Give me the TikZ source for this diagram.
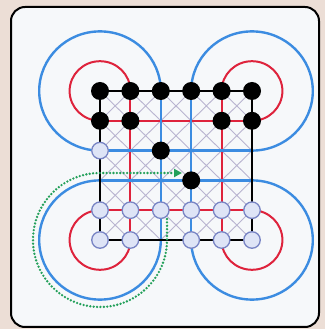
\documentclass[tikz,border=0pt]{standalone}
\usetikzlibrary{arrows.meta}
\definecolor{bgbeige}{RGB}{236,222,214}
\definecolor{boardfill}{RGB}{246,248,250}
\definecolor{redc}{RGB}{222,35,60}
\definecolor{bluec}{RGB}{60,140,225}
\definecolor{hatchc}{RGB}{185,180,208}
\definecolor{whitefill}{RGB}{222,228,246}
\definecolor{whiteedge}{RGB}{120,132,196}
\definecolor{greenc}{RGB}{35,160,90}
\begin{document}
\begin{tikzpicture}[x=1pt,y=1pt,
  boardframe/.style={draw=black,line width=2pt,fill=boardfill,rounded corners=14pt},
  hatch/.style={draw=hatchc,line width=0.9pt},
  redline/.style={draw=redc,line width=2pt},
  blueline/.style={draw=bluec,line width=2.4pt},
  frameline/.style={draw=black,line width=2.4pt},
  greenpath/.style={draw=greenc,line width=2.6pt,line cap=round,dash pattern=on 0pt off 3.4pt,
    -{Triangle[length=8pt,width=8pt,fill=greenc]}},
  blackpiece/.style={circle,fill=black,inner sep=0pt,minimum size=18pt},
  whitepiece/.style={circle,fill=whitefill,draw=whiteedge,line width=1.3pt,inner sep=0pt,minimum size=16.5pt}]
\useasboundingbox (0,0) rectangle (325,329);
\fill[bgbeige] (0,0) rectangle (325,329);
\draw[boardframe] (11,2) rectangle (319,322);
% grid coordinates
\foreach \i in {0,...,5}{
  \foreach \j in {0,...,5}{
    \coordinate (p-\i-\j) at ({100+30.4*\j},{238-29.8*\i});
  }
}
% hatching
\foreach \i in {0,...,4}{
  \foreach \j in {0,...,4}{
    \pgfmathtruncatemacro\ii{\i+1}
    \pgfmathtruncatemacro\jj{\j+1}
    \draw[hatch] (p-\i-\j) -- (p-\ii-\jj) (p-\i-\jj) -- (p-\ii-\j);
  }
}
% loops
\draw[blueline] (p-0-2) arc[start angle=0,end angle=270,x radius=60.8,y radius=59.6];
\draw[redline] (p-0-1) arc[start angle=0,end angle=270,x radius=30.4,y radius=29.8];
\draw[blueline] (p-0-3) arc[start angle=180,end angle=-90,x radius=60.8,y radius=59.6];
\draw[redline] (p-0-4) arc[start angle=180,end angle=-90,x radius=30.4,y radius=29.8];
\draw[blueline] (p-3-0) arc[start angle=90,end angle=360,x radius=60.8,y radius=59.6];
\draw[redline] (p-4-0) arc[start angle=90,end angle=360,x radius=30.4,y radius=29.8];
\draw[blueline] (p-5-3) arc[start angle=180,end angle=450,x radius=60.8,y radius=59.6];
\draw[redline] (p-5-4) arc[start angle=180,end angle=450,x radius=30.4,y radius=29.8];
% straight circuit lines
\draw[redline] (p-0-1) -- (p-5-1);
\draw[redline] (p-0-4) -- (p-5-4);
\draw[redline] (p-1-0) -- (p-1-5);
\draw[redline] (p-4-0) -- (p-4-5);
\draw[blueline] (p-0-2) -- (p-5-2);
\draw[blueline] (p-0-3) -- (p-5-3);
\draw[blueline] (p-2-0) -- (p-2-5);
\draw[blueline] (p-3-0) -- (p-3-5);
% outer square
\draw[frameline] (p-0-0) rectangle (p-5-5);
% green move path
\coordinate (gstart) at (167,110);
\coordinate (gend) at (182,156);
\draw[greenpath] (gstart) -- (167,89) arc[start angle=0,end angle=-270,radius=67] -- (gend);
% pieces
\foreach \j in {0,...,5}{ \node[blackpiece] (piece-0-\j) at (p-0-\j) {}; }
\foreach \j in {0,1,4,5}{ \node[blackpiece] (piece-1-\j) at (p-1-\j) {}; }
\node[blackpiece] (piece-2-2) at (p-2-2) {};
\node[blackpiece] (piece-3-3) at (p-3-3) {};
\node[whitepiece] (piece-2-0) at (p-2-0) {};
\foreach \j in {0,...,5}{ \node[whitepiece] (piece-4-\j) at (p-4-\j) {}; }
\foreach \j in {0,1,3,4,5}{ \node[whitepiece] (piece-5-\j) at (p-5-\j) {}; }
\end{tikzpicture}
\end{document}
